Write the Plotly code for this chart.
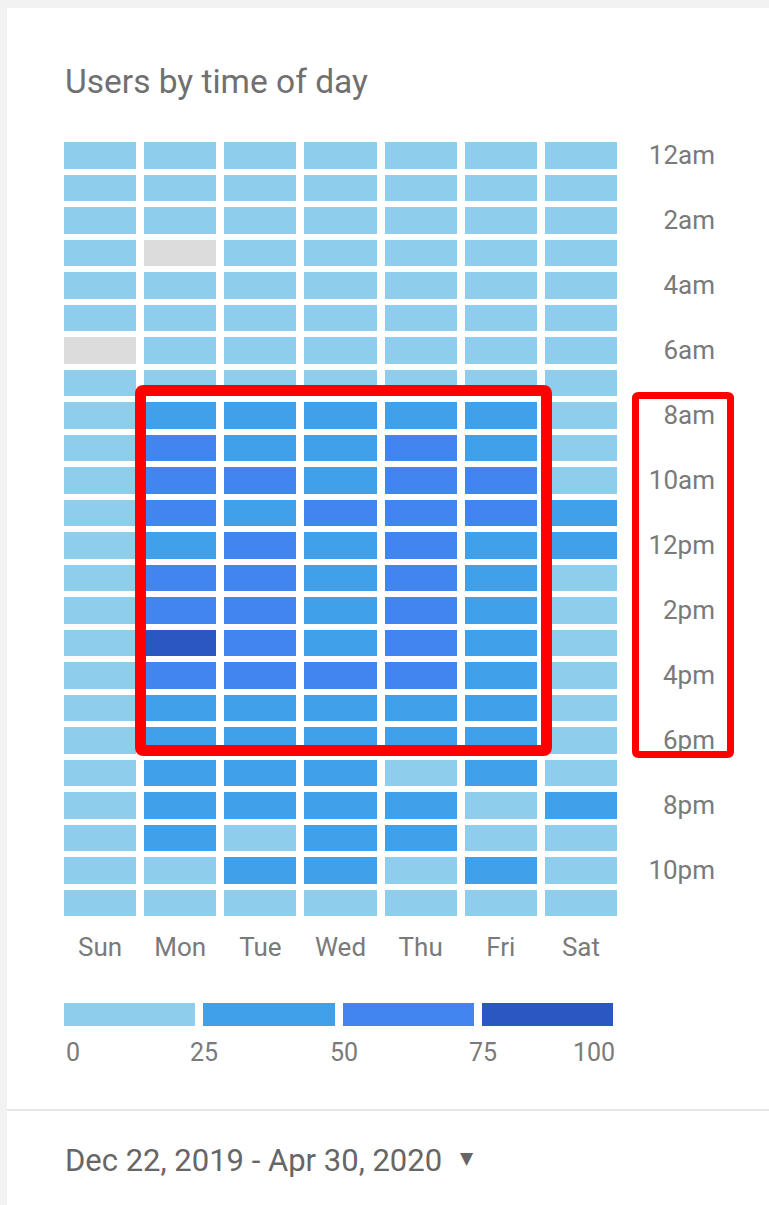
import plotly.graph_objects as go

W, H = 769, 1205

# ---- data -------------------------------------------------------------
days = ["Sun", "Mon", "Tue", "Wed", "Thu", "Fri", "Sat"]
hour_labels = ["12am", "2am", "4am", "6am", "8am", "10am",
               "12pm", "2pm", "4pm", "6pm", "8pm", "10pm"]
hours = list(range(24))

# users index (0-100) per hour, 12am .. 11pm; None = no users recorded
sun = [14, 12, 10, 9, 8, 8, None, 10, 13, 15, 16, 18,
       19, 19, 18, 18, 17, 16, 16, 15, 16, 15, 14, 12]
mon = [10, 8, 7, None, 6, 8, 11, 18, 45, 62, 66, 64,
       48, 60, 63, 80, 65, 46, 42, 38, 36, 33, 22, 15]
tue = [11, 9, 8, 7, 7, 9, 12, 19, 44, 47, 60, 45,
       58, 61, 59, 56, 57, 42, 40, 34, 35, 20, 30, 16]
wed = [12, 10, 9, 8, 7, 9, 12, 20, 43, 46, 40, 57,
       44, 46, 45, 45, 55, 43, 41, 37, 36, 34, 32, 17]
thu = [11, 9, 8, 8, 7, 9, 12, 19, 44, 60, 63, 61,
       58, 59, 62, 57, 60, 45, 43, 22, 38, 35, 21, 15]
fri = [12, 10, 9, 8, 7, 9, 11, 18, 42, 46, 58, 56,
       44, 43, 42, 40, 41, 40, 38, 32, 21, 20, 30, 16]
sat = [13, 11, 10, 9, 8, 8, 10, 13, 16, 18, 21, 28,
       27, 22, 21, 20, 19, 19, 18, 17, 29, 20, 18, 14]

scale_ticks = [0, 25, 50, 75, 100]
scale_mids = [12.5, 37.5, 62.5, 87.5]

date_range = "Dec 22, 2019 - Apr 30, 2020"

# ---- styling ------------------------------------------------------------
C_LIGHT, C_MED, C_BLUE, C_DARK = "#8ecdeb", "#40a0ea", "#4285f0", "#2b57c3"
C_EMPTY = "#dcdcdc"
steps = [[0.0, C_LIGHT], [0.25, C_LIGHT], [0.25, C_MED], [0.5, C_MED],
         [0.5, C_BLUE], [0.75, C_BLUE], [0.75, C_DARK], [1.0, C_DARK]]
FONT = "Roboto, 'DejaVu Sans', sans-serif"
TXT = "#7a7a7a"

def px_x(x):
    return x / W

def px_y(y):
    return 1 - y / H

columns = [sun, mon, tue, wed, thu, fri, sat]
z = [[columns[d][h] for d in range(7)] for h in hours]
z_empty = [[1 for _ in days] for _ in hours]

fig = go.Figure()

# grey bricks sit underneath; they show through wherever z is None
fig.add_trace(go.Heatmap(
    x=days, y=hours, z=z_empty, colorscale=[[0, C_EMPTY], [1, C_EMPTY]],
    showscale=False, xgap=8, ygap=6, hoverinfo="skip"))
fig.add_trace(go.Heatmap(
    x=days, y=hours, z=z, zmin=0, zmax=100, colorscale=steps,
    showscale=False, xgap=8, ygap=6,
    hovertemplate="%{x} %{y}:00<br>%{z}<extra></extra>"))

# stepped colour key
fig.add_trace(go.Heatmap(
    x=scale_mids, y=[0], z=[scale_mids], zmin=0, zmax=100, colorscale=steps,
    showscale=False, xgap=8, ygap=0, hoverinfo="skip",
    xaxis="x2", yaxis="y2"))

fig.update_layout(
    width=W, height=H, autosize=False,
    margin=dict(l=0, r=0, t=0, b=0),
    paper_bgcolor="#f2f2f2", plot_bgcolor="rgba(0,0,0,0)",
    font=dict(family=FONT, color=TXT, size=26),
    xaxis=dict(domain=[px_x(60), px_x(621)], anchor="y",
               showgrid=False, zeroline=False, showline=False,
               ticks="", ticklabelstandoff=10,
               tickfont=dict(size=26, color=TXT), fixedrange=True),
    yaxis=dict(domain=[px_y(919), px_y(139)], range=[23.5, -0.5],
               anchor="free", position=px_x(715), side="left",
               tickvals=hours[::2], ticktext=hour_labels,
               showgrid=False, zeroline=False, showline=False, ticks="",
               tickfont=dict(size=26, color=TXT), fixedrange=True),
    xaxis2=dict(domain=[px_x(60), px_x(617)], range=[0, 100], anchor="y2",
                showticklabels=False, showgrid=False, zeroline=False,
                fixedrange=True),
    yaxis2=dict(domain=[px_y(1026), px_y(1003)], range=[-0.5, 0.5],
                anchor="x2", showticklabels=False, showgrid=False,
                zeroline=False, fixedrange=True),
)

# white card with a divider above the footer
fig.add_shape(type="rect", xref="paper", yref="paper", layer="below",
              x0=px_x(7), x1=px_x(W + 5), y0=px_y(H + 5), y1=px_y(8),
              fillcolor="white", line=dict(width=0))
fig.add_shape(type="line", xref="paper", yref="paper", layer="below",
              x0=px_x(7), x1=px_x(W), y0=px_y(1110), y1=px_y(1110),
              line=dict(color="#e6e6e6", width=2))

# colour key labels
for v in scale_ticks:
    anchor = "left" if v == 0 else ("right" if v == 100 else "center")
    shift = 4 if v == 0 else (0 if v == 100 else 5)
    fig.add_annotation(x=v, y=px_y(1052), xref="x2", yref="paper",
                       text=str(v), showarrow=False, xanchor=anchor,
                       yanchor="middle", xshift=shift,
                       font=dict(size=25, color=TXT))

fig.add_annotation(x=px_x(63), y=px_y(82), xref="paper", yref="paper",
                   text="Users by time of day", showarrow=False,
                   xanchor="left", yanchor="middle",
                   font=dict(size=33.5, color="#707070"))
fig.add_annotation(x=px_x(63), y=px_y(1160), xref="paper", yref="paper",
                   text=date_range, showarrow=False,
                   xanchor="left", yanchor="middle",
                   font=dict(size=31, color="#666666"))
fig.add_annotation(x=px_x(467), y=px_y(1158), xref="paper", yref="paper",
                   text="▼", showarrow=False,
                   xanchor="center", yanchor="middle",
                   font=dict(size=17, color="#666666", family="DejaVu Sans"))

# red highlight frames with rounded corners
def rounded_box(x0, y0, x1, y1, r):
    X = [px_x(v) for v in (x0, x0 + r, x1 - r, x1)]
    Y = [px_y(v) for v in (y0, y0 + r, y1 - r, y1)]
    return (f"M{X[1]},{Y[0]} L{X[2]},{Y[0]} Q{X[3]},{Y[0]} {X[3]},{Y[1]} "
            f"L{X[3]},{Y[2]} Q{X[3]},{Y[3]} {X[2]},{Y[3]} "
            f"L{X[1]},{Y[3]} Q{X[0]},{Y[3]} {X[0]},{Y[2]} "
            f"L{X[0]},{Y[1]} Q{X[0]},{Y[0]} {X[1]},{Y[0]} Z")

fig.add_shape(type="path", xref="paper", yref="paper",
              path=rounded_box(140.5, 390.5, 546.5, 750.5, 3),
              line=dict(color="#ff0000", width=11))
fig.add_shape(type="path", xref="paper", yref="paper",
              path=rounded_box(635.5, 395.5, 730.5, 754.5, 3),
              line=dict(color="#ff0000", width=7))

fig.write_html("out.html", config={"displayModeBar": False})
